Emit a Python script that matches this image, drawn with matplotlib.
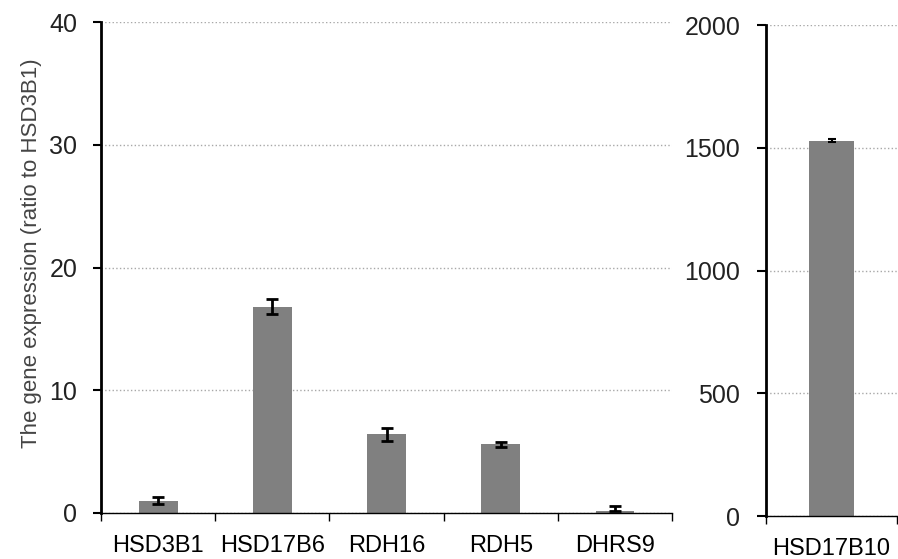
import numpy as np
import matplotlib
matplotlib.use('Agg')
import matplotlib.pyplot as plt

matplotlib.rcParams.update({'font.family': 'Liberation Sans', 'font.size': 17})

genes = ['HSD3B1', 'HSD17B6', 'RDH16', 'RDH5', 'DHRS9']
expr = [1.0, 16.8, 6.4, 5.6, 0.15]
err_lo = [0.3, 0.6, 0.5, 0.2, 0.0]
err_hi = [0.3, 0.6, 0.5, 0.2, 0.42]

gene2 = ['HSD17B10']
expr2 = [1530]
err2 = [5]

bar_col = '#808080'
grid_col = '#a8a8a8'

fig = plt.figure(figsize=(8.98, 5.59), dpi=100)
ax1 = fig.add_axes([0.1125, 0.0823, 0.636, 0.878])
ax2 = fig.add_axes([0.853, 0.0769, 0.146, 0.878])

x = np.arange(len(genes))
ax1.bar(x, expr, width=0.34, color=bar_col, zorder=2)
ax1.errorbar(x, expr, yerr=[err_lo, err_hi], fmt='none', ecolor='black',
             elinewidth=2, capsize=4, capthick=2, zorder=3)
ax1.set_xlim(-0.5, len(genes) - 0.5)
ax1.set_ylim(0, 40)
ax1.set_yticks([0, 10, 20, 30, 40])
ax1.set_xticks(x)
ax1.set_xticklabels(genes)
ax1.set_xticks(np.arange(len(genes) + 1) - 0.5, minor=True)
ax1.tick_params(axis='x', which='major', length=0, pad=16)
ax1.tick_params(axis='x', which='minor', length=6, width=1, direction='out')
ax1.tick_params(axis='y', length=6, width=1.5, labelcolor='#222222', pad=11, labelsize=18)
ax1.set_ylabel('The gene expression (ratio to HSD3B1)', color='#444444', fontsize=16)
ax1.yaxis.set_label_coords(-0.103, 0.53)
ax1.yaxis.grid(True, color=grid_col, linestyle=':', lw=1, zorder=0)

x2 = np.arange(len(gene2))
ax2.bar(x2, expr2, width=0.34, color=bar_col, zorder=2)
ax2.errorbar(x2, expr2, yerr=err2, fmt='none', ecolor='black',
             elinewidth=1.5, capsize=3, capthick=1.5, zorder=3)
ax2.set_xlim(-0.5, 0.5)
ax2.set_ylim(0, 2000)
ax2.set_yticks([0, 500, 1000, 1500, 2000])
ax2.set_xticks(x2)
ax2.set_xticklabels(gene2)
ax2.set_xticks([-0.5, 0.5], minor=True)
ax2.tick_params(axis='x', which='major', length=0, pad=16)
ax2.tick_params(axis='x', which='minor', length=6, width=1, direction='out')
ax2.tick_params(axis='y', length=6.5, width=1.5, labelcolor='#222222', pad=12, labelsize=18)
ax2.yaxis.grid(True, color=grid_col, linestyle=':', lw=1, zorder=0)

for ax in (ax1, ax2):
    ax.spines['top'].set_visible(False)
    ax.spines['right'].set_visible(False)
    ax.spines['left'].set_linewidth(2)
    ax.spines['bottom'].set_linewidth(1)
    ax.set_axisbelow(True)

plt.savefig('out.png', dpi=100)
